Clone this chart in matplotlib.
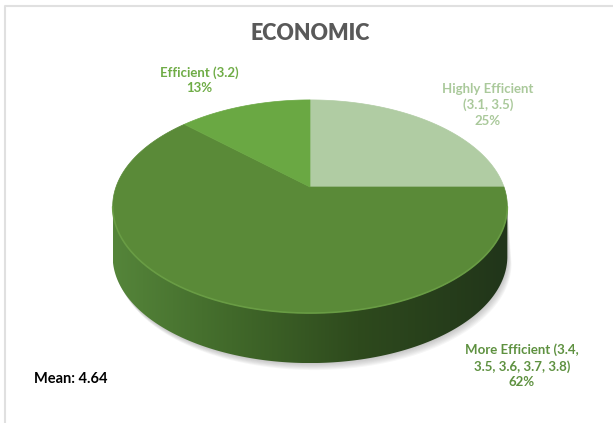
import numpy as np
import matplotlib.pyplot as plt
from matplotlib.patches import Polygon
from matplotlib.colors import LinearSegmentedColormap

# chart data
title = "ECONOMIC"
labels = ["Highly Efficient\n(3.1, 3.5)", "More Efficient (3.4,\n3.5, 3.6, 3.7, 3.8)", "Efficient (3.2)"]
shares = [25, 62, 13]
mean_text = "Mean: 4.64"

top_colors = ["#b0cca3", "#5a8a38", "#6aa843"]
label_colors = ["#aac99b", "#5e9140", "#6fac46"]
label_pos = [(488, 105), (522, 366), (199, 80)]

# 3d pie geometry (pixel coords, y down)
cx, cy = 310, 187
R, Ry, k = 194, 103, 0.183
depth = 50


def project(theta, drop=0.0):
    u, v = np.cos(theta), np.sin(theta)
    w = 1 + k * v
    return cx + R * u / w, cy - Ry * v / w + drop


plt.rcParams['font.family'] = ['Lato', 'DejaVu Sans']
fig = plt.figure(figsize=(6.13, 4.23), dpi=100)
ax = fig.add_axes([0, 0, 1, 1])
ax.axis('off')

# outer frame (top and left only visible)
ax.plot([5, 5, 613], [423, 6, 6], color="#e0e0e0", lw=1.5, zorder=1)

# side silhouette
t = np.linspace(np.pi / 2, 2.5 * np.pi, 720)
xs, ys = project(t)
tL = t[np.argmin(xs)]
tR = t[np.argmax(xs)]
front = np.linspace(tL, tR, 300)
fx, fy = project(front)
bx, by = project(front[::-1], depth)
side_xy = np.column_stack([np.r_[fx, bx], np.r_[fy, by]])

# soft shadow
for i in range(1, 8):
    sx, sy = project(front, depth)
    ax.fill(np.r_[sx + i * 0.6, fx[::-1]], np.r_[sy + i * 1.0, fy[::-1]],
            color="gray", alpha=0.07, lw=0, zorder=2)

side = Polygon(side_xy, closed=True, facecolor="none", edgecolor="none", zorder=3)
ax.add_patch(side)
cmap = LinearSegmentedColormap.from_list(
    "side", [(0, "#55853a"), (0.3, "#41692a"), (0.62, "#2e4a1d"), (1, "#21351a")])
img = ax.imshow(np.linspace(0, 1, 256)[None, :], cmap=cmap, aspect='auto',
                extent=[fx.min(), fx.max(), by.max(), fy.min()], zorder=3)
img.set_clip_path(side)

# top surface wedges
start = 90.0
for share, col in zip(shares, top_colors):
    a0 = np.deg2rad(start)
    a1 = np.deg2rad(start - 360 * share / 100)
    arc = np.linspace(a0, a1, 200)
    ax_, ay_ = project(arc)
    pts = np.column_stack([np.r_[cx, ax_], np.r_[cy, ay_]])
    ax.add_patch(Polygon(pts, closed=True, facecolor=col, edgecolor=col, lw=0.5, zorder=4))
    start -= 360 * share / 100

# rim highlight on front edge
ax.plot(fx, fy, color="#6a9e45", lw=1.2, alpha=0.9, zorder=5, solid_capstyle='round')

# texts
ax.text(310, 33, title, ha='center', va='center', fontsize=15.5, fontweight='heavy', color="#595959")
for lab, share, col, (lx, ly) in zip(labels, shares, label_colors, label_pos):
    ax.text(lx, ly, f"{lab}\n{share}%", ha='center', va='center', fontsize=9.5,
            fontweight='bold', color=col, linespacing=1.35)
ax.text(34, 379, mean_text, ha='left', va='center', fontsize=10.5, fontweight='bold', color="black")

ax.set_xlim(0, 613)
ax.set_ylim(423, 0)
fig.savefig("out.png", dpi=100)
